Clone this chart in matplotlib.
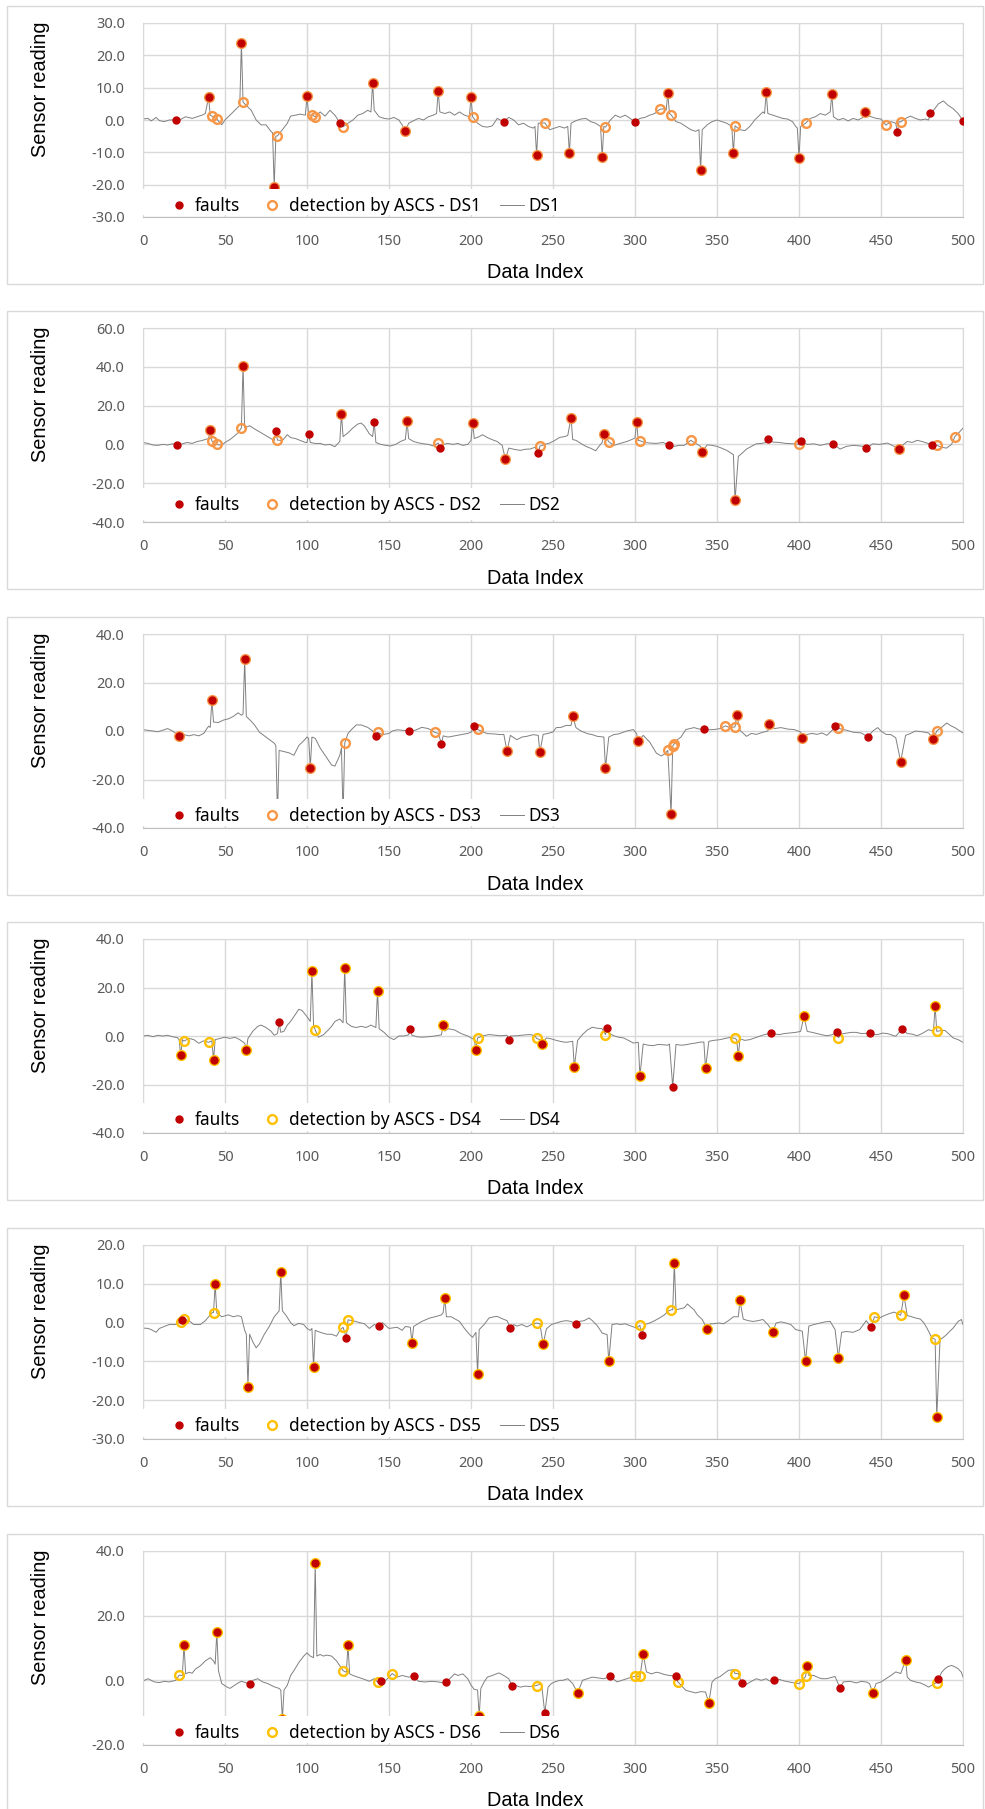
import numpy as np
import matplotlib
matplotlib.use("Agg")
import matplotlib.pyplot as plt
from matplotlib.patches import Rectangle
from matplotlib.ticker import FormatStrFormatter

## values, (index, reading)
ds1_line = [(0, 0.3), (3, 0.5), (5, -0.3), (8, 0.8), (10, -0.2), (13, -0.5), (16, 0), (20, 0), (23, 0.2), (26, 1), (30, 0.5),
            (33, 1), (36, 1.5), (38, 2), (40, 7.0), (41, 1.5), (42, 1.2), (45, 0.3), (48, -1.5), (50, 0), (53, 1.5), (56, 3),
            (59, 4.5), (60, 23.8), (61, 5.5), (63, 4.5), (66, 3), (69, 0), (72, -1.5), (75, -1.5), (78, -3.5), (79, -4),
            (80, -20.7), (81, -5.0), (82, -4.9), (85, -3), (88, -1), (90, 1.2), (93, 1.5), (96, 1.8), (99, 1.5), (100, 7.4),
            (101, 1.5), (103, 1.6), (105, 1.0), (108, 2.5), (111, 1.2), (114, 3), (117, 1.5), (120, -0.8), (122, -2.1),
            (125, -1), (128, 0), (131, 1.5), (134, 2), (137, 3), (139, 2.5), (140, 11.5), (141, 3), (144, 1), (147, 0.5),
            (150, 0.3), (153, 0.8), (156, 0), (158, -1.5), (160, -3.4), (162, -1), (165, -0.2), (168, 0.5), (171, 0),
            (174, 1), (177, 1.5), (179, 2), (180, 9.0), (181, 2.5), (184, 2), (187, 2.5), (190, 1.5), (193, 2.5), (196, 1.5),
            (199, 1.0), (200, 7.1), (201, 1.0), (204, -1), (207, -2), (210, -2.2), (213, -1.8), (216, 0.5), (220, -0.6),
            (223, 0.8), (226, 0), (229, -1.5), (232, -1), (235, -2), (238, -2.5), (239, -2), (240, -10.8), (241, -1),
            (245, -0.9), (248, -3), (251, -2.5), (254, -2), (257, -2.5), (259, -2), (260, -10.3), (261, -1), (264, -0.2),
            (267, 0.3), (270, 0.5), (273, -0.5), (276, -1), (279, -2), (280, -11.5), (281, -2), (282, -2.2), (285, 0),
            (288, 1.5), (291, 0.8), (294, 1.5), (297, 0.5), (300, -0.6), (303, 0.5), (306, 0.8), (309, 1.5), (312, 2),
            (315, 3.3), (318, 3.5), (319, 3), (320, 8.3), (321, 2), (322, 1.6), (325, -0.5), (328, -1), (331, -2), (334, -3),
            (337, -3.5), (339, -3), (340, -15.6), (341, -3), (344, -1.5), (347, -0.5), (350, 0), (353, -0.5), (356, -1),
            (359, -2), (360, -10.1), (361, -1.8), (364, -3), (367, -3.3), (370, -2), (373, 0), (376, 1.5), (378, 2.5),
            (379, 2), (380, 8.6), (381, 2), (384, 1.5), (387, 1), (390, 0.5), (393, 0.3), (396, -0.5), (398, -2), (399, -2.5),
            (400, -11.7), (401, -2), (404, -1.0), (407, 0.5), (410, 1), (413, 2), (416, 1.5), (419, 2.5), (420, 7.9),
            (421, 1.0), (424, 0), (427, 0.5), (430, -0.3), (433, 0.5), (436, 0), (439, 0.8), (440, 2.6), (441, 1.5), (444, 1),
            (447, 0.5), (450, 0.3), (453, -1.6), (456, -0.5), (459, -1), (460, -3.8), (461, -0.5), (462, -0.6), (465, 0.5),
            (468, 1.2), (471, 0.5), (474, 0), (477, 0.3), (479, 0), (480, 2.1), (482, 3), (485, 5), (488, 5.9), (491, 4.5),
            (494, 3.5), (497, 2), (500, -0.2)]
ds1_fault_x = [20, 40, 60, 80, 100, 120, 140, 160, 180, 200, 220, 240, 260, 280, 300, 320, 340, 360, 380, 400, 420, 440, 460, 480, 500]
ds1_fault_y = [0.0, 7.0, 23.8, -20.7, 7.4, -0.8, 11.5, -3.4, 9.0, 7.1, -0.6, -10.8, -10.3, -11.5, -0.6, 8.3, -15.6, -10.1,
               8.6, -11.7, 7.9, 2.6, -3.8, 2.1, -0.2]
ds1_det = [(40, 7.0), (42, 1.2), (45, 0.3), (60, 23.8), (61, 5.5), (80, -20.7), (82, -4.9), (100, 7.4), (103, 1.6), (105, 1.0),
           (122, -2.1), (140, 11.5), (160, -3.4), (180, 9.0), (200, 7.1), (201, 1.0), (240, -10.8), (245, -0.9), (260, -10.3),
           (280, -11.5), (282, -2.2), (315, 3.3), (320, 8.3), (322, 1.6), (340, -15.6), (360, -10.1), (361, -1.8), (380, 8.6),
           (400, -11.7), (404, -1.0), (420, 7.9), (440, 2.6), (453, -1.6), (462, -0.6)]

ds2_line = [(0, 1.0), (3, 0.5), (6, -0.3), (9, -0.5), (12, 0), (15, -0.3), (18, 0.3), (21, -0.3), (24, 0.3), (27, 1), (30, 0.5),
            (33, 1.5), (36, 2), (39, 2.8), (40, 3), (41, 7.4), (42, 1.7), (45, 0), (48, -0.5), (50, 1), (53, 2.5), (56, 4.5),
            (58, 6), (60, 8.6), (61, 40.6), (62, 8.5), (65, 9.6), (68, 8), (71, 6.5), (74, 5), (77, 3.5), (80, 2), (81, 7.1),
            (82, 2.2), (85, 2), (88, 5), (90, 3.5), (93, 3), (96, 2), (99, 1), (100, 1), (101, 5.2), (102, 1), (105, 0.5),
            (108, 0.5), (111, -0.3), (114, 0), (117, -1.2), (120, 1.5), (121, 15.7), (122, 4), (125, 6), (128, 8.5),
            (131, 10.5), (133, 11), (135, 9.5), (138, 5.5), (140, 4), (141, 11.4), (142, 1), (145, 0), (148, -0.5),
            (151, -0.8), (154, 0), (157, 1.5), (160, 2.5), (161, 12.0), (162, 3), (165, 1.5), (168, 0.8), (171, 0.3),
            (174, 0), (177, -0.8), (180, 0.7), (181, -1.7), (183, 0), (186, 0.5), (189, 0), (192, 0.5), (195, -0.5), (198, 0),
            (200, 2), (201, 11.2), (202, 3), (205, 4), (207, 5), (210, 3.5), (213, 2.4), (216, 1.5), (219, -0.5), (221, -7.7),
            (223, -1.9), (226, -2.5), (230, -3.1), (233, -2.5), (236, -2.4), (239, -1.5), (241, -4.5), (242, -0.9), (245, 0),
            (248, 0.7), (251, 2), (254, 3.6), (257, 4), (259, 4.6), (261, 13.8), (262, 2.5), (264, 2.1), (267, 0.5),
            (270, -1), (273, -2), (276, -3.3), (278, -1), (280, 1), (281, 5.3), (284, 1.4), (287, -0.5), (291, 0.5),
            (295, 1.5), (298, 2.5), (300, 3.3), (301, 11.7), (302, 2), (303, 1.9), (306, 1), (309, 0.7), (313, 0.5), (317, 1),
            (320, 0), (321, -0.3), (324, -1), (327, -0.5), (330, -0.5), (334, 2.1), (336, 1), (340, -1), (341, -3.8),
            (344, -0.2), (347, -0.5), (350, -1), (353, -2), (356, -3.1), (360, -5.3), (361, -28.9), (363, -6.2), (366, -4),
            (368, -2.4), (371, -1), (374, 0.3), (377, 0.5), (380, 1), (381, 2.8), (384, 1.2), (388, 1), (392, 0.5),
            (397, 0.3), (400, 0), (401, 1.7), (405, 0), (409, 0.3), (413, -0.5), (417, 0.3), (421, 0.2), (425, -2.4),
            (429, -1), (433, -0.5), (436, -0.7), (439, -1), (441, -1.9), (445, 0.3), (449, 0), (454, 0.7), (458, -1),
            (461, -2.4), (463, -0.5), (466, 1.5), (469, 1), (472, 2.1), (475, 1.5), (478, 0.7), (481, -0.3), (484, -0.5),
            (487, -1.5), (490, -1.9), (493, 0), (495, 4.0), (498, 6.5), (500, 8.4)]
ds2_fault_x = [21, 41, 61, 81, 101, 121, 141, 161, 181, 201, 221, 241, 261, 281, 301, 321, 341, 361, 381, 401, 421, 441, 461, 481]
ds2_fault_y = [-0.3, 7.4, 40.6, 7.1, 5.2, 15.7, 11.4, 12.0, -1.7, 11.2, -7.7, -4.5, 13.8, 5.3, 11.7, -0.3, -3.8, -28.9,
               2.8, 1.7, 0.2, -1.9, -2.4, -0.3]
ds2_det = [(41, 7.4), (42, 1.7), (45, 0.0), (60, 8.6), (61, 40.6), (82, 2.2), (121, 15.7), (161, 12.0), (180, 0.7),
           (201, 11.2), (221, -7.7), (242, -0.9), (261, 13.8), (281, 5.3), (284, 1.4), (301, 11.7), (303, 1.9), (334, 2.1),
           (341, -3.8), (361, -28.9), (400, 0.0), (461, -2.4), (484, -0.5), (495, 4.0)]

ds3_line = [(0, 0.5), (3, 0.3), (6, 0), (9, -0.3), (12, 0.3), (15, 1), (18, 0), (20, -1), (22, -2.1), (25, -1.5), (28, -2),
            (31, -1.5), (34, -2), (37, -1), (40, 2), (41, 1.5), (42, 12.8), (43, 3.7), (46, 3.5), (49, 4.5), (52, 5), (55, 6),
            (58, 7.5), (60, 6.5), (61, 7), (62, 29.5), (63, 6), (66, 4), (68, 2.5), (71, -0.5), (74, -2), (77, -3.5), (80, -5),
            (81, -6), (82, -35), (83, -8), (86, -8.5), (89, -9), (92, -10), (95, -6), (98, -4), (100, -2.5), (101, -3),
            (102, -15.2), (103, -2.5), (105, -3), (108, -7), (110, -9), (112, -11), (115, -14), (117, -14.5), (120, -10),
            (121, -7), (122, -35), (123, -5.0), (125, -1), (127, 0.5), (130, 2.5), (133, 2.5), (137, 1.5), (140, 0),
            (142, -2.1), (143, -0.6), (146, -1.5), (150, -1), (152, 0), (155, 0.5), (158, 0.3), (162, 0.1), (166, 0.3),
            (170, 1.5), (174, 1), (178, -0.6), (180, -1), (182, -5.2), (183, -2), (186, -2.5), (190, -2), (194, -1.5),
            (198, -1), (200, -0.5), (202, 1.9), (204, 0.7), (206, 0), (210, -1.1), (214, -1.2), (218, -1.5), (220, -1.4),
            (222, -8.4), (224, -1.8), (228, -3.6), (231, -2.5), (234, -2.2), (238, -1.5), (241, -1.8), (242, -8.7),
            (244, -1.4), (247, -1), (250, -0.4), (252, 1.4), (255, 1.5), (258, 2.3), (261, 2.3), (262, 6.1), (264, 1.4),
            (267, 0), (271, -1.1), (274, -1.5), (277, -2.2), (281, -2.5), (282, -15.2), (284, -2.5), (287, -1.5), (290, -1.2),
            (295, 0), (299, 0.6), (301, -1.1), (302, -4.3), (305, -1.8), (309, -4.6), (313, -9.1), (316, -10.3), (318, -9.5),
            (320, -8.0), (322, -34.2), (323, -6.2), (324, -5.2), (326, -3.5), (328, -2.5), (331, 0.6), (336, 1.4), (339, 0.8),
            (342, 0.8), (345, 0.5), (348, 0.6), (352, 1), (355, 2.1), (358, 1.4), (361, 1.7), (362, 6.5), (364, 0.3),
            (368, -2.2), (371, -1), (374, -1.4), (378, -0.5), (381, 0), (382, 3.0), (385, 1), (389, 1.4), (393, 0.8),
            (397, 0.6), (401, -0.4), (402, -3.0), (405, -1.4), (408, -1), (411, -1.4), (414, -0.8), (417, -1.8), (421, 0.8),
            (422, 1.9), (424, 1.1), (429, 0.3), (433, -0.5), (438, -0.8), (442, -2.5), (445, 0), (448, 1.4), (450, 0),
            (453, -1.4), (456, -1.5), (459, -2.8), (462, -12.6), (465, -1.8), (468, -1), (471, 0), (475, -0.3), (479, -0.8),
            (482, -3.3), (484, 0.0), (487, 1.5), (490, 3.3), (493, 2), (495, 1.4), (500, -0.8)]
ds3_fault_x = [22, 42, 62, 82, 102, 122, 142, 162, 182, 202, 222, 242, 262, 282, 302, 322, 342, 362, 382, 402, 422, 442, 462, 482]
ds3_fault_y = [-2.1, 12.8, 29.5, -35.0, -15.2, -35.0, -2.1, 0.1, -5.2, 1.9, -8.4, -8.7, 6.1, -15.2, -4.3, -34.2, 0.8, 6.5,
               3.0, -3.0, 1.9, -2.5, -12.6, -3.3]
ds3_det = [(22, -2.1), (42, 12.8), (62, 29.5), (102, -15.2), (123, -5.0), (143, -0.6), (178, -0.6), (204, 0.7), (222, -8.4),
           (242, -8.7), (262, 6.1), (282, -15.2), (302, -4.3), (320, -8.0), (322, -34.2), (323, -6.2), (324, -5.2),
           (355, 2.1), (361, 1.7), (362, 6.5), (382, 3.0), (402, -3.0), (424, 1.1), (462, -12.6), (482, -3.3), (484, 0.0)]

ds4_line = [(0, 0), (3, 0.3), (6, -0.3), (9, 0.3), (12, 0), (15, 0.3), (18, -0.3), (21, -0.7), (22, -1.5), (23, -8.0),
            (24, -1.5), (25, -2.1), (28, -1), (31, -1.5), (34, -3), (37, -2), (40, -2.6), (42, -2), (43, -9.8), (44, -1.5),
            (47, -1), (50, -0.5), (53, -1), (56, -0.5), (59, -1.5), (62, -3), (63, -5.6), (64, -1), (67, 2), (70, 4),
            (72, 4.5), (75, 3.5), (78, 2), (80, 0.3), (82, 1), (83, 5.6), (84, 1.5), (86, 2), (88, 4.5), (90, 6), (92, 8),
            (95, 11), (97, 10.5), (100, 8), (102, 6), (103, 26.6), (104, 4.5), (105, 2.5), (107, -0.5), (110, 0.5),
            (113, 2.5), (115, 4), (117, 6), (120, 7), (122, 5.5), (123, 28.1), (124, 5.5), (127, 4), (130, 3.5), (133, 4),
            (136, 3.5), (139, 4.5), (142, 3.5), (143, 18.7), (144, 3), (147, 1.5), (150, -0.5), (153, -1.5), (156, 0),
            (159, 0), (162, 0.5), (163, 2.9), (164, 0.3), (167, -0.3), (170, -0.5), (174, -0.3), (178, 0), (182, 0.5),
            (183, 4.7), (184, 2), (186, 3), (190, 2.5), (194, 1), (198, 0), (202, -1.5), (203, -5.6), (204, -0.8), (207, 0),
            (211, 0.6), (215, 0.3), (218, 0.1), (222, 0.3), (223, -1.7), (224, 0), (228, 0.1), (232, 0.4), (236, 0.6),
            (239, 0.1), (240, -1.0), (242, -1.5), (243, -3.4), (246, -0.8), (249, -1.2), (252, -1.8), (255, -2.3),
            (258, -2.6), (262, -2.2), (263, -12.9), (265, -1.8), (268, 0.6), (271, 2.5), (274, 3.6), (277, 3.2), (280, 3),
            (282, 0.6), (283, 3.4), (285, 0.8), (287, 0.1), (290, -0.5), (293, -0.8), (296, -1.8), (299, -2.9), (302, -2.6),
            (303, -16.5), (305, -3.3), (308, -3.8), (311, -4.0), (314, -3.5), (317, -3.6), (320, -3.8), (321, -3.3),
            (323, -20.9), (325, -3.5), (328, -3.8), (331, -3.6), (334, -3.2), (337, -2.9), (340, -2.5), (342, -2.5),
            (343, -13.4), (345, -2.2), (348, -1.8), (352, -1.5), (355, -1), (358, -0.6), (361, -1.0), (362, -1.5),
            (363, -8.4), (364, -1.2), (367, -1.8), (370, -1.5), (373, -0.8), (376, -0.1), (379, 0.6), (382, 1.0), (383, 1.4),
            (385, 0.8), (388, 0.6), (391, 1.0), (394, 1.2), (398, 1.5), (401, 1.9), (403, 8.1), (405, 1.9), (408, 1.5),
            (411, 1.0), (414, 0.5), (417, 0.1), (420, 0.5), (423, 1.5), (424, -0.7), (426, 0.8), (429, 1.2), (432, 1.5),
            (435, 1.5), (438, 1.0), (443, 1.2), (445, 0.6), (448, 0.6), (451, 1.2), (454, 1.0), (457, 0.3), (459, -0.1),
            (463, 3.0), (466, 1.0), (469, 0.8), (472, 0.1), (475, 1.0), (479, 2.6), (482, 2), (483, 12.5), (484, 1.9),
            (487, 2.3), (489, 2.3), (492, 0.5), (494, -0.8), (497, -1.5), (500, -2.6)]
ds4_fault_x = [23, 43, 63, 83, 103, 123, 143, 163, 183, 203, 223, 243, 263, 283, 303, 323, 343, 363, 383, 403, 423, 443, 463, 483]
ds4_fault_y = [-8.0, -9.8, -5.6, 5.6, 26.6, 28.1, 18.7, 2.9, 4.7, -5.6, -1.7, -3.4, -12.9, 3.4, -16.5, -20.9, -13.4, -8.4,
               1.4, 8.1, 1.5, 1.2, 3.0, 12.5]
ds4_det = [(23, -8.0), (25, -2.1), (40, -2.6), (43, -9.8), (63, -5.6), (103, 26.6), (105, 2.5), (123, 28.1), (143, 18.7),
           (183, 4.7), (203, -5.6), (204, -0.8), (240, -1.0), (243, -3.4), (263, -12.9), (282, 0.6), (303, -16.5),
           (343, -13.4), (361, -1.0), (363, -8.4), (403, 8.1), (424, -0.7), (483, 12.5), (484, 1.9)]

ds5_line = [(0, -1.4), (3, -1.5), (5, -1.8), (8, -2.5), (10, -1.5), (13, -1), (16, -0.5), (20, -0.5), (23, 0.2), (24, 0.8),
            (25, 0.9), (28, 0.5), (31, -0.5), (35, -0.5), (38, 0.5), (40, 1.5), (42, 2.5), (43, 2.6), (44, 10.0), (45, 2.5),
            (48, 1.5), (52, 2), (55, 1.5), (58, 1.8), (60, 1.5), (62, -2), (63, -3), (64, -16.5), (65, -3), (67, -5),
            (69, -6.5), (71, -5.5), (74, -3), (77, -1), (80, 1.5), (82, 2.5), (83, 3.0), (84, 13.0), (85, 3.0), (87, 2),
            (90, 0), (92, -0.8), (95, -0.2), (98, -0.5), (100, -1.5), (102, -2), (103, -1.5), (104, -11.4), (105, -2),
            (108, -2.5), (112, -3), (115, -3), (118, -3.5), (120, -2), (122, -1.2), (124, -3.9), (125, 0.7), (128, 0.5),
            (132, 0), (135, -0.3), (138, -1.5), (141, -0.5), (144, -0.9), (146, 0), (150, -1.5), (155, -1.2), (158, -2),
            (160, -1), (163, -1.2), (164, -5.2), (165, -1), (170, 0.3), (175, 1.2), (178, 1.5), (182, 2), (183, 2.5),
            (184, 6.3), (185, 1.5), (188, 1.5), (190, 1.0), (193, 0.3), (196, -1.5), (199, -3), (201, -3.8), (203, -2.5),
            (204, -13.3), (205, -1.8), (208, -0.5), (211, 1.2), (214, 1.5), (216, 1.6), (219, 1), (222, 0.5), (224, -1.5),
            (226, -0.5), (228, -0.9), (231, -0.5), (234, -1.1), (237, -0.5), (240, -0.1), (242, -0.3), (244, -5.6),
            (246, -1.6), (249, -0.5), (252, -0.1), (255, 0.3), (258, 0.5), (261, 0.3), (264, -0.4), (266, 0.3), (269, 0.5),
            (272, 1.2), (274, 0.5), (277, -0.8), (280, -2.7), (283, -3.1), (284, -10.0), (286, -0.5), (289, -0.3),
            (291, -0.5), (294, -0.3), (297, -0.8), (301, -1.4), (303, -0.7), (304, -3.3), (306, -0.5), (309, -0.1),
            (312, 0.5), (315, 1.2), (318, 2), (320, 2.9), (322, 3.3), (323, 3.3), (324, 15.3), (325, 3.3), (327, 3.5),
            (330, 3.8), (332, 4.8), (334, 4), (336, 3.3), (338, 2), (341, 0.8), (344, -1.7), (346, -0.3), (348, -0.3),
            (351, -0.1), (354, -0.3), (357, 0.5), (360, 1.5), (363, 1.5), (364, 5.7), (366, 0.9), (369, 0.5), (372, 0.3),
            (375, 0.5), (378, 0.8), (381, -0.5), (382, -1.1), (384, -2.5), (386, -0.1), (389, 0.2), (392, -0.1), (395, -0.5),
            (398, -1.8), (402, -2.2), (404, -10.0), (406, -0.9), (409, -0.5), (413, -0.1), (416, 0.2), (419, 0.3),
            (422, -1.8), (424, -9.0), (426, -2.5), (429, -2.3), (433, -2.5), (437, -1.8), (441, 0.5), (444, -1.2),
            (446, 1.5), (449, 1.2), (452, 1.8), (455, 2.3), (458, 2.7), (460, 2.3), (462, 1.9), (464, 7.0), (466, 1.8),
            (468, 1.6), (471, 1.2), (474, 0.9), (476, 0), (478, -1.4), (481, -3.9), (483, -4.3), (484, -24.4), (486, -4.4),
            (488, -3.8), (490, -3.1), (492, -2.2), (494, -1.4), (497, 0.3), (499, 0.8), (500, -0.5)]
ds5_fault_x = [24, 44, 64, 84, 104, 124, 144, 164, 184, 204, 224, 244, 264, 284, 304, 324, 344, 364, 384, 404, 424, 444, 464, 484]
ds5_fault_y = [0.6, 10.0, -16.5, 13.0, -11.4, -3.9, -0.9, -5.2, 6.3, -13.3, -1.5, -5.6, -0.4, -10.0, -3.3, 15.3, -1.7, 5.7,
               -2.5, -10.0, -9.0, -1.2, 7.0, -24.4]
ds5_det = [(23, 0.2), (25, 0.9), (43, 2.6), (44, 10.0), (64, -16.5), (84, 13.0), (104, -11.4), (122, -1.2), (125, 0.7),
           (164, -5.2), (184, 6.3), (204, -13.3), (240, -0.1), (244, -5.6), (284, -10.0), (303, -0.7), (322, 3.3),
           (324, 15.3), (344, -1.7), (364, 5.7), (384, -2.5), (404, -10.0), (424, -9.0), (446, 1.5), (462, 1.9), (464, 7.0),
           (483, -4.3), (484, -24.4)]

ds6_line = [(0, -0.2), (3, 0.5), (7, -0.5), (10, -0.7), (13, -0.3), (16, -0.5), (20, 0), (22, 1.6), (24, 1.5), (25, 11.0),
            (26, 2), (28, 2.5), (30, 2.2), (32, 3.5), (35, 4.5), (38, 6), (41, 7), (43, 6), (44, 5), (45, 14.8), (46, 3),
            (47, 1), (48, -1), (51, -2), (53, -2.5), (56, -1.5), (58, -0.8), (60, -0.3), (63, -0.8), (65, -1.1), (67, 0),
            (70, 0.5), (73, -0.5), (76, -1), (80, -2), (83, -2.5), (84, -3), (85, -11.9), (86, -3), (88, -1.5), (90, 1.5),
            (92, 3), (95, 5.5), (98, 7.5), (100, 8.5), (102, 7.5), (104, 7), (105, 36.3), (106, 7.5), (108, 8), (110, 7.5),
            (112, 7.8), (115, 7.5), (118, 6), (120, 4.5), (122, 3.0), (124, 2.5), (125, 11.0), (126, 2), (128, 1.5),
            (131, 1), (135, 0.3), (138, -0.3), (141, 0.5), (143, -0.5), (145, -0.3), (148, 0), (150, 1), (152, 2.1),
            (155, 1), (158, 1.5), (162, 1), (165, 1.2), (168, -0.3), (172, -0.5), (176, -0.3), (180, -0.5), (183, -0.8),
            (185, -0.6), (187, 0.5), (190, 2), (192, 1.5), (195, 2), (198, 0.5), (200, -1.5), (202, -2.8), (204, -3),
            (205, -11.0), (206, -2.5), (208, -0.5), (210, 1.0), (213, 1.5), (217, 2.3), (220, 1.5), (223, 0.5), (225, -1.6),
            (227, -1.5), (230, -2.1), (233, -1.8), (236, -1.9), (240, -1.6), (243, -1.0), (245, -10.2), (247, -2.1),
            (249, -1), (251, -0.5), (254, 0), (256, 0), (259, 0.5), (262, -1), (265, -3.9), (268, 0), (271, 0.5), (274, 1.0),
            (277, 0.8), (281, 0.5), (285, 1.2), (289, -0.5), (292, 0), (295, 0.5), (298, 1), (300, 1.2), (303, 1.2),
            (305, 8.0), (307, 2.6), (310, 2), (313, 2.5), (315, 2.3), (318, 1.8), (321, 1.5), (325, 1.3), (326, -0.4),
            (329, -2), (331, -3.1), (334, -3.5), (337, -3.9), (340, -3.5), (343, -3.6), (345, -6.9), (347, -0.5), (349, 0.5),
            (352, 1.2), (354, 2), (357, 3.1), (360, 3.3), (361, 2.1), (363, 2.1), (365, -0.8), (368, -1.2), (371, -0.3),
            (374, 0.5), (377, 0), (380, 0.5), (382, -0.2), (385, 0.2), (388, 0.3), (391, -0.2), (394, -0.5), (397, -0.8),
            (400, -1.0), (402, 0), (404, 1.2), (405, 4.5), (406, 1.5), (409, 1.5), (412, 0.8), (414, 0.5), (417, 0.5),
            (419, 0.8), (422, 1.2), (425, -2.4), (427, -0.5), (431, -0.3), (435, -0.8), (438, -0.3), (441, -0.5), (443, -1),
            (445, -3.8), (447, -1.0), (450, -0.5), (453, 0.5), (456, 1.5), (459, 2.6), (462, 2.1), (465, 6.2), (466, 1),
            (468, 0), (471, -0.5), (474, -0.8), (477, -1.5), (479, -2.1), (482, -1.2), (484, -0.7), (485, 0.4), (487, 2.5),
            (489, 3.6), (491, 4.3), (493, 4.6), (495, 4.2), (497, 3.6), (499, 2.5), (500, 1.0)]
ds6_fault_x = [25, 45, 65, 85, 105, 125, 145, 165, 185, 205, 225, 245, 265, 285, 305, 325, 345, 365, 385, 405, 425, 445, 465, 485]
ds6_fault_y = [11.0, 14.8, -1.1, -11.9, 36.3, 11.0, -0.3, 1.2, -0.6, -11.0, -1.6, -10.2, -3.9, 1.2, 8.0, 1.3, -6.9, -0.8,
               0.2, 4.5, -2.4, -3.8, 6.2, 0.4]
ds6_det = [(22, 1.6), (25, 11.0), (45, 14.8), (85, -11.9), (105, 36.3), (122, 3.0), (125, 11.0), (143, -0.5), (152, 2.1),
           (205, -11.0), (240, -1.6), (265, -3.9), (300, 1.2), (303, 1.2), (305, 8.0), (326, -0.4), (345, -6.9), (361, 2.1),
           (400, -1.0), (404, 1.2), (405, 4.5), (445, -3.8), (465, 6.2), (484, -0.7)]

W, H = 985, 1809
RED = "#C00000"
ORANGE = "#F79646"
GOLD = "#FFC000"
GREY = "#808080"

plt.rcParams["font.family"] = ["Noto Sans", "DejaVu Sans"]
plt.rcParams["axes.unicode_minus"] = False

fig = plt.figure(figsize=(W / 100, H / 100), dpi=100)


def draw_panel(top, name, line, fx, fy, det, ylim, ystep, det_color, leg_off):
    # chart border
    fig.add_artist(Rectangle((7 / W, 1 - (top + 278) / H), 976 / W, 278 / H, transform=fig.transFigure,
                             fill=False, ec="#D9D9D9", lw=1))
    ax = fig.add_axes([143 / W, 1 - (top + 211) / H, 820 / W, 194 / H])

    lx, ly = zip(*line)
    ln, = ax.plot(lx, ly, color=GREY, lw=0.7, zorder=2)
    dx, dy = zip(*det)
    dt, = ax.plot(dx, dy, ls="none", marker="o", ms=6.3, mfc="none", mec=det_color, mew=1.7, zorder=3)
    ft, = ax.plot(fx, fy, ls="none", marker="o", ms=5, color=RED, mec=RED, zorder=4)

    ax.set_xlim(0, 500)
    ax.set_xticks(np.arange(0, 501, 50))
    ax.set_ylim(*ylim)
    ax.set_yticks(np.arange(ylim[0], ylim[1] + 1, ystep))
    ax.yaxis.set_major_formatter(FormatStrFormatter("%.1f"))
    ax.tick_params(axis="both", length=0, labelsize=10.5, labelcolor="#595959")
    ax.tick_params(axis="x", pad=12)
    ax.tick_params(axis="y", pad=13)
    ax.grid(True, color="#D9D9D9", lw=1.0)
    ax.set_axisbelow(True)
    for s in ax.spines.values():
        s.set_color("#D9D9D9")
    ax.spines["bottom"].set_color("#BFBFBF")

    # legend sits inside the plot area on a white box
    box_h = (leg_off + 17) / 194
    ax.add_patch(Rectangle((-0.004, 0.008), 0.524, box_h - 0.008, transform=ax.transAxes,
                           fc="white", ec="none", zorder=5, clip_on=False))
    leg = ax.legend([ft, dt, ln], ["faults", "detection by ASCS - " + name, name], loc="center left",
                    bbox_to_anchor=(0.029, leg_off / 194), ncol=3, frameon=False, borderpad=0, borderaxespad=0,
                    handlelength=1.4, handletextpad=0.25, columnspacing=1.15,
                    prop={"family": "Noto Sans", "size": 12.4})
    leg.set_zorder(6)

    fig.text(40 / W, 1 - (top + 83) / H, "Sensor reading", rotation=90, ha="center", va="center",
             fontsize=14.3, family="Liberation Sans")
    fig.text(535 / W, 1 - (top + 267) / H, "Data Index", ha="center", va="center",
             fontsize=14.3, family="Liberation Sans")


draw_panel(6, "DS1", ds1_line, ds1_fault_x, ds1_fault_y, ds1_det, (-30, 30), 10, ORANGE, 11)
draw_panel(311, "DS2", ds2_line, ds2_fault_x, ds2_fault_y, ds2_det, (-40, 60), 20, ORANGE, 17)
draw_panel(617, "DS3", ds3_line, ds3_fault_x, ds3_fault_y, ds3_det, (-40, 40), 20, ORANGE, 12)
draw_panel(922, "DS4", ds4_line, ds4_fault_x, ds4_fault_y, ds4_det, (-40, 40), 20, GOLD, 13)
draw_panel(1228, "DS5", ds5_line, ds5_fault_x, ds5_fault_y, ds5_det, (-30, 20), 10, GOLD, 13)
draw_panel(1534, "DS6", ds6_line, ds6_fault_x, ds6_fault_y, ds6_det, (-20, 40), 20, GOLD, 12)

fig.savefig("out.png", dpi=100)
